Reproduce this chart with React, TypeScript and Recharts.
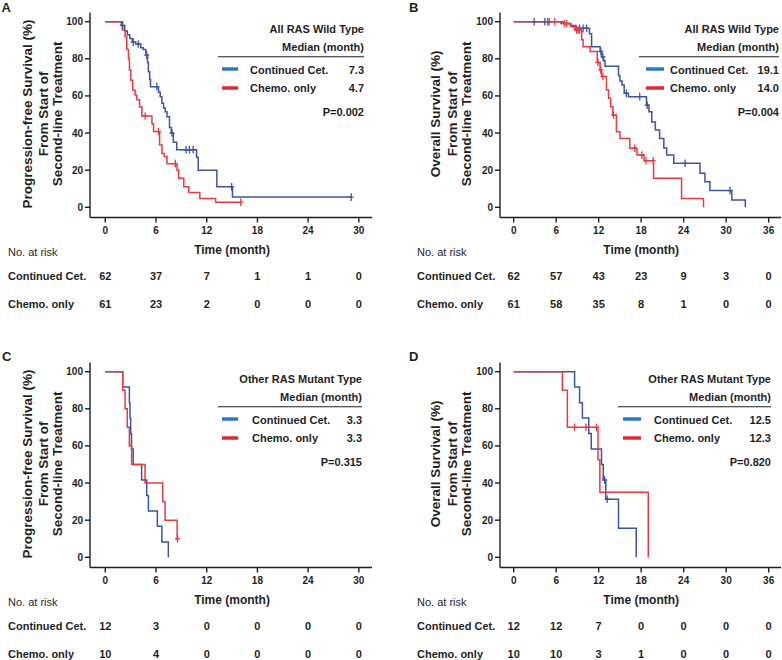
import React from 'react';
import { LineChart, Line, XAxis, YAxis } from 'recharts';

const FONT = '"Liberation Sans", Arial, Helvetica, sans-serif';
const BLUE = '#3b55a6';
const RED = '#e53b41';
const LEG_BLUE = '#2a78c4';
const LEG_RED = '#dc2a30';
const INK = '#1f1f1f';

// ---------- Tick labels / risk tables ----------
const ticks30 = [0, 6, 12, 18, 24, 30];
const ticks36 = [0, 6, 12, 18, 24, 30, 36];
const yTicks = [0, 20, 40, 60, 80, 100];

const aRiskCet = [62, 37, 7, 1, 1, 0];
const aRiskChemo = [61, 23, 2, 0, 0, 0];
const bRiskCet = [62, 57, 43, 23, 9, 3, 0];
const bRiskChemo = [61, 58, 35, 8, 1, 0, 0];
const cRiskCet = [12, 3, 0, 0, 0, 0];
const cRiskChemo = [10, 4, 0, 0, 0, 0];
const dRiskCet = [12, 12, 7, 0, 0, 0, 0];
const dRiskChemo = [10, 10, 3, 1, 0, 0, 0];

// ---------- Panel A: PFS, All RAS wild type ----------
const aCetT = [0, 1.9, 2.3, 2.6, 2.9, 3.2, 3.6, 4.2, 4.5, 4.8, 5.0, 5.1, 5.25, 5.35, 6.3, 6.5, 6.7, 6.9, 7.1, 7.3, 7.6, 7.8, 8.05, 8.45, 10.8, 11.0, 13.2, 15.05];
const aCetS = [100, 98, 95, 93, 91, 89, 88, 86, 85, 82, 78, 73, 69, 65, 62, 59.6, 56, 53.5, 51.5, 48.8, 43, 40, 35, 31, 27, 20, 11, 5.5];
const aCetCensT = [2.0, 3.3, 3.9, 4.9, 6.1, 7.9, 9.55, 9.95, 10.4, 14.95, 29.1];
const aCetCensS = [98, 89, 88, 82, 65, 40, 31, 31, 31, 11, 5.5];
const aChemoT = [0, 2.06, 2.34, 2.54, 2.74, 2.86, 3.02, 3.25, 3.53, 3.73, 4.05, 4.33, 5.52, 5.71, 6.43, 6.71, 6.98, 7.3, 8.49, 8.69, 9.29, 9.88, 11.19, 13.06];
const aChemoS = [100, 95.5, 92, 85, 80, 74, 68.5, 63, 60.5, 58, 54, 49.2, 45, 40.8, 33.6, 29, 27.3, 23.5, 20, 15.6, 11, 8, 4.8, 2.7];
const aChemoCensT = [4.72, 6.31, 8.29, 16.03];
const aChemoCensS = [49.2, 40.8, 23.5, 2.7];

// ---------- Panel B: OS, All RAS wild type ----------
const bCetT = [0, 6.7, 8.0, 8.8, 10.7, 11.0, 12.2, 12.45, 12.7, 12.9, 14.8, 15.0, 15.3, 15.6, 16.2, 18.75, 19.1, 19.5, 20.0, 20.6, 21.2, 21.6, 22.6, 26.3, 27.0, 27.7, 30.8, 32.7];
const bCetS = [100, 99, 98, 96.4, 93.5, 86.5, 84, 81, 79, 76, 71, 68, 65.9, 61.4, 59.6, 55, 51.5, 46, 41.6, 37, 32, 28.2, 23.7, 18.3, 13.8, 9, 3.9, 0];
const bCetCensT = [2.9, 4.4, 5.0, 9.3, 9.8, 10.3, 12.3, 12.6, 15.9, 17.8, 18.85, 24.2, 30.55];
const bCetCensS = [100, 100, 100, 96.4, 96.4, 96.4, 84, 81, 61.4, 59.6, 55, 23.7, 9];
const bChemoT = [0, 7.0, 8.1, 8.6, 9.6, 9.8, 10.8, 11.8, 12.2, 12.4, 13.1, 13.4, 13.7, 14.0, 14.5, 15.0, 16.4, 17.4, 18.4, 19.75, 23.7, 26.8];
const bChemoS = [100, 99, 97.3, 95.5, 90.2, 86.5, 84, 78, 74, 70.4, 63.2, 58.7, 54.2, 49.7, 40.7, 37.1, 31.8, 28.2, 25.1, 15.6, 4.8, 0];
const bChemoCensT = [4.8, 5.8, 7.2, 7.5, 8.9, 9.1, 9.3, 11.9, 12.3, 12.6, 14.1, 17.1, 18.1, 18.7, 19.7];
const bChemoCensS = [100, 100, 99, 99, 95.5, 95.5, 95.5, 78, 74, 70.4, 49.7, 31.8, 28.2, 25.1, 25.1];

// ---------- Panel C: PFS, other RAS mutant ----------
const cCetT = [0, 2.06, 2.85, 2.92, 3.0, 3.1, 3.3, 4.3, 4.9, 5.1, 6.16, 6.7, 7.46];
const cCetS = [100, 91.7, 83.3, 75, 66.7, 58.3, 50, 41.7, 33.3, 25, 16.7, 8.3, 0];
const cCetCensT: number[] = [];
const cCetCensS: number[] = [];
const cChemoT = [0, 2.06, 2.33, 2.6, 2.85, 3.12, 4.7, 6.79, 7.07, 8.5];
const cChemoS = [100, 90, 80, 70, 60, 50, 40, 30, 20, 10];
const cChemoCensT = [8.55];
const cChemoCensS = [10];

// ---------- Panel D: OS, other RAS mutant ----------
const dCetT = [0, 8.6, 9.3, 9.7, 10.6, 10.95, 12.4, 12.65, 13.0, 14.8, 17.3];
const dCetS = [100, 91.7, 83.3, 75, 66.7, 58.3, 50, 41.7, 31.3, 15.6, 0];
const dCetCensT = [12.85, 13.2];
const dCetCensS = [41.7, 31.3];
const dChemoT = [0, 6.87, 7.58, 11.9, 12.17, 19.0];
const dChemoS = [100, 90, 70, 52.5, 35, 0];
const dChemoCensT = [8.6, 10.2, 11.7];
const dChemoCensS = [70, 70, 70];

type Pt = { t: number; s: number; c: boolean };

function buildSeries(T: number[], S: number[], CT: number[], CS: number[]): Pt[] {
  const pts: Pt[] = T.map((t, i) => ({ t, s: S[i], c: false }));
  CT.forEach((t, i) => pts.push({ t, s: CS[i], c: true }));
  pts.sort((a, b) => a.t - b.t);
  return pts;
}

const W = 391;
const H = 312;
const MT = 12.4;
const MB = 0.5;
const AX1 = 40;
const AXR = 27;
const PLOT_BOTTOM = H - MB - AX1 - 2 * AXR;

const censorDot = (color: string) => (props: any) => {
  const { cx, cy, payload, index } = props;
  if (!payload || !payload.c || cx == null || cy == null) return <g key={`d${index}`} />;
  return (
    <g key={`d${index}`}>
      <line x1={cx} x2={cx} y1={cy - 3.8} y2={cy + 3.8} stroke={color} strokeWidth={1.3} />
      <line x1={cx - 2.5} x2={cx + 2.5} y1={cy} y2={cy} stroke={color} strokeWidth={1.3} />
    </g>
  );
};

type PanelProps = {
  left: number;
  top: number;
  xMin: number;
  xMax: number;
  ticks: number[];
  yAxisW: number;
  mRight: number;
  cet: Pt[];
  chemo: Pt[];
  riskCet: number[];
  riskChemo: number[];
  letter: string;
  letterX: number;
  letterY: number;
  yTitle: string;
  titleX: number[];
  rowLabelX: number;
  group: string;
  medCet: string;
  medChemo: string;
  pval: string;
  legR: number;
  ruleX: number;
  swX1: number;
  swX2: number;
  legTextX: number;
};

function Panel(p: PanelProps) {
  const tickStyle = { fill: INK, fontSize: 10, fontWeight: 700, fontFamily: FONT };
  const riskStyle = { fill: INK, fontSize: 11, fontWeight: 700, fontFamily: FONT };
  const plotLeft = p.yAxisW;
  const plotW = W - p.mRight - p.yAxisW;
  const midT = (p.ticks[0] + p.ticks[p.ticks.length - 1]) / 2;
  const timeX = plotLeft + ((midT - p.xMin) / (p.xMax - p.xMin)) * plotW;
  const yCenter = (MT + PLOT_BOTTOM) / 2 - 1;
  const titleLines = [p.yTitle, 'From Start of', 'Second-line Treatment'];
  const t12: any = { fontFamily: FONT, fill: INK };
  return (
    <div style={{ position: 'absolute', left: p.left, top: p.top, width: W, height: H }}>
      <LineChart width={W} height={H} margin={{ top: MT, right: p.mRight, bottom: MB, left: 0 }}>
        <XAxis
          xAxisId="main"
          type="number"
          dataKey="t"
          domain={[p.xMin, p.xMax]}
          allowDataOverflow
          ticks={p.ticks}
          interval={0}
          height={AX1}
          tickSize={5}
          tickMargin={4}
          axisLine={{ stroke: INK, strokeWidth: 1.4 }}
          tickLine={{ stroke: INK, strokeWidth: 1.4 }}
          tick={tickStyle}
        />
        <XAxis
          xAxisId="r1"
          type="number"
          dataKey="t"
          domain={[p.xMin, p.xMax]}
          allowDataOverflow
          ticks={p.ticks}
          interval={0}
          height={AXR}
          tickSize={0}
          tickMargin={14.7}
          axisLine={false}
          tickLine={false}
          tick={riskStyle}
          tickFormatter={(v: number) => String(p.riskCet[p.ticks.indexOf(v)])}
        />
        <XAxis
          xAxisId="r2"
          type="number"
          dataKey="t"
          domain={[p.xMin, p.xMax]}
          allowDataOverflow
          ticks={p.ticks}
          interval={0}
          height={AXR}
          tickSize={0}
          tickMargin={15.2}
          axisLine={false}
          tickLine={false}
          tick={riskStyle}
          tickFormatter={(v: number) => String(p.riskChemo[p.ticks.indexOf(v)])}
        />
        <YAxis
          type="number"
          domain={[-5.5, 105]}
          allowDataOverflow
          ticks={yTicks}
          interval={0}
          width={p.yAxisW}
          tickSize={5}
          tickMargin={2}
          axisLine={{ stroke: INK, strokeWidth: 1.4 }}
          tickLine={{ stroke: INK, strokeWidth: 1.4 }}
          tick={tickStyle}
        />
        <Line
          xAxisId="main"
          data={p.cet}
          dataKey="s"
          type="stepAfter"
          stroke={BLUE}
          strokeWidth={1.5}
          dot={censorDot(BLUE)}
          activeDot={false}
          isAnimationActive={false}
          name="Continued Cet."
        />
        <Line
          xAxisId="main"
          data={p.chemo}
          dataKey="s"
          type="stepAfter"
          stroke={RED}
          strokeWidth={1.5}
          dot={censorDot(RED)}
          activeDot={false}
          isAnimationActive={false}
          name="Chemo. only"
        />
      </LineChart>
      <svg
        width={W}
        height={H}
        style={{ position: 'absolute', left: 0, top: 0, pointerEvents: 'none' }}
      >
        <text x={p.letterX} y={p.letterY} fontSize={13} fontWeight={700} {...t12}>
          {p.letter}
        </text>
        {titleLines.map((s, i) => (
          <text
            key={i}
            transform={`translate(${p.titleX[i]},${yCenter}) rotate(-90)`}
            textAnchor="middle"
            fontSize={13.5}
            fontWeight={700}
            {...t12}
          >
            {s}
          </text>
        ))}
        <text x={timeX} y={253.5} textAnchor="middle" fontSize={12} fontWeight={700} {...t12}>
          Time (month)
        </text>
        <text x={p.rowLabelX} y={255.5} fontSize={11} {...t12}>
          No. at risk
        </text>
        <text x={p.rowLabelX} y={280} fontSize={11} fontWeight={700} {...t12}>
          Continued Cet.
        </text>
        <text x={p.rowLabelX} y={307.5} fontSize={11} fontWeight={700} {...t12}>
          Chemo. only
        </text>
        {/* legend / annotation */}
        <text x={p.legR} y={33} textAnchor="end" fontSize={11} fontWeight={700} {...t12}>
          {p.group}
        </text>
        <text x={p.legR} y={50.5} textAnchor="end" fontSize={11} fontWeight={700} {...t12}>
          Median (month)
        </text>
        <line x1={p.ruleX} x2={p.legR} y1={56.7} y2={56.7} stroke={INK} strokeWidth={1.1} />
        <line x1={p.swX1} x2={p.swX2} y1={69} y2={69} stroke={LEG_BLUE} strokeWidth={3.5} />
        <line x1={p.swX1} x2={p.swX2} y1={88} y2={88} stroke={LEG_RED} strokeWidth={3.5} />
        <text x={p.legTextX} y={73.5} fontSize={11} fontWeight={700} {...t12}>
          Continued Cet.
        </text>
        <text x={p.legR} y={73.5} textAnchor="end" fontSize={11} fontWeight={700} {...t12}>
          {p.medCet}
        </text>
        <text x={p.legTextX} y={91.8} fontSize={11} fontWeight={700} {...t12}>
          Chemo. only
        </text>
        <text x={p.legR} y={91.8} textAnchor="end" fontSize={11} fontWeight={700} {...t12}>
          {p.medChemo}
        </text>
        <text x={p.legR} y={116} textAnchor="end" fontSize={11} fontWeight={700} {...t12}>
          {p.pval}
        </text>
      </svg>
    </div>
  );
}

const leftCol = { xMin: -1.81, xMax: 31.56, ticks: ticks30, yAxisW: 90, mRight: 19, titleX: [32, 48, 62], rowLabelX: 8 };
const rightCol = { xMin: -1.93, xMax: 37.74, ticks: ticks36, yAxisW: 109, mRight: 1, titleX: [49, 66, 80], rowLabelX: 26 };

export default function App() {
  const aCet = buildSeries(aCetT, aCetS, aCetCensT, aCetCensS);
  const aChemo = buildSeries(aChemoT, aChemoS, aChemoCensT, aChemoCensS);
  const bCet = buildSeries(bCetT, bCetS, bCetCensT, bCetCensS);
  const bChemo = buildSeries(bChemoT, bChemoS, bChemoCensT, bChemoCensS);
  const cCet = buildSeries(cCetT, cCetS, cCetCensT, cCetCensS);
  const cChemo = buildSeries(cChemoT, cChemoS, cChemoCensT, cChemoCensS);
  const dCet = buildSeries(dCetT, dCetS, dCetCensT, dCetCensS);
  const dChemo = buildSeries(dChemoT, dChemoS, dChemoCensT, dChemoCensS);
  return (
    <div
      style={{
        position: 'absolute',
        left: 0,
        top: 0,
        width: 782,
        height: 660,
        overflow: 'hidden',
        background: '#fff',
        fontFamily: FONT,
      }}
    >
      <Panel
        {...leftCol}
        left={0}
        top={0}
        cet={aCet}
        chemo={aChemo}
        riskCet={aRiskCet}
        riskChemo={aRiskChemo}
        letter="A"
        letterX={1.5}
        letterY={11.5}
        yTitle="Progression-free Survival (%)"
        group="All RAS Wild Type"
        medCet="7.3"
        medChemo="4.7"
        pval="P=0.002"
        legR={364}
        ruleX={218}
        swX1={222}
        swX2={238}
        legTextX={250}
      />
      <Panel
        {...rightCol}
        left={391}
        top={0}
        cet={bCet}
        chemo={bChemo}
        riskCet={bRiskCet}
        riskChemo={bRiskChemo}
        letter="B"
        letterX={18}
        letterY={11.5}
        yTitle="Overall Survival (%)"
        group="All RAS Wild Type"
        medCet="19.1"
        medChemo="14.0"
        pval="P=0.004"
        legR={388}
        ruleX={248}
        swX1={255}
        swX2={273}
        legTextX={279}
      />
      <Panel
        {...leftCol}
        left={0}
        top={350}
        cet={cCet}
        chemo={cChemo}
        riskCet={cRiskCet}
        riskChemo={cRiskChemo}
        letter="C"
        letterX={2}
        letterY={11}
        yTitle="Progression-free Survival (%)"
        group="Other RAS Mutant Type"
        medCet="3.3"
        medChemo="3.3"
        pval="P=0.315"
        legR={362}
        ruleX={218}
        swX1={222}
        swX2={238}
        legTextX={252}
      />
      <Panel
        {...rightCol}
        left={391}
        top={350}
        cet={dCet}
        chemo={dChemo}
        riskCet={dRiskCet}
        riskChemo={dRiskChemo}
        letter="D"
        letterX={18}
        letterY={11}
        yTitle="Overall Survival (%)"
        group="Other RAS Mutant Type"
        medCet="12.5"
        medChemo="12.3"
        pval="P=0.820"
        legR={380}
        ruleX={227}
        swX1={232}
        swX2={250}
        legTextX={263}
      />
    </div>
  );
}
